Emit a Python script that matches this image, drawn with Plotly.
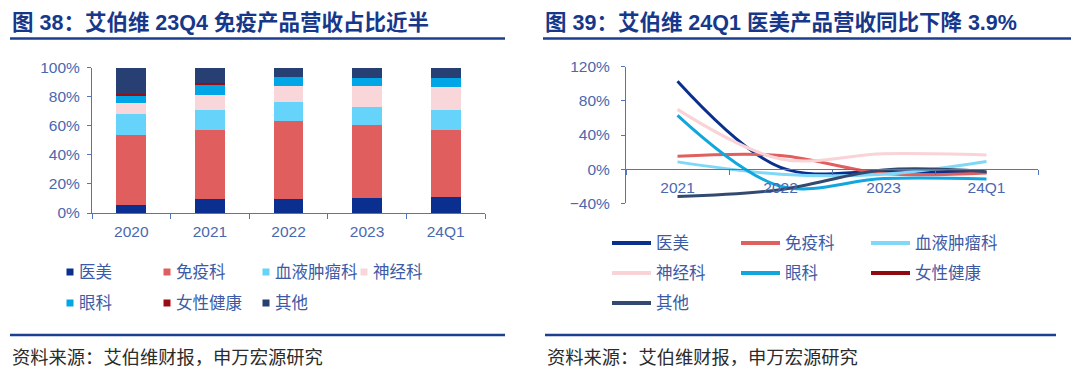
import plotly.graph_objects as go

# page is 1080x377 with the default 8px body margin -> figure 1064x361
PAGE_W, PAGE_H = 1080, 377
OFF = 8
W, H = PAGE_W - 2 * OFF, PAGE_H - 2 * OFF

# ---------------- data ----------------
bar_categories = ["2020", "2021", "2022", "2023", "24Q1"]
series_names = ["医美", "免疫科", "血液肿瘤科", "神经科", "眼科", "女性健康", "其他"]
share_aesthetics = [5.3, 9.4, 9.4, 10.1, 10.8]
share_immunology = [48.5, 47.4, 54.2, 50.8, 46.6]
share_hem_onc = [14.6, 13.9, 12.6, 11.9, 13.3]
share_neuro = [7.3, 10.5, 11.4, 14.8, 16.2]
share_eye = [5.1, 6.9, 5.8, 5.1, 5.8]
share_women = [1.4, 1.4, 0.0, 0.0, 0.0]
share_other = [17.8, 10.5, 6.6, 7.3, 7.3]

line_categories = ["2021", "2022", "2023", "24Q1"]
yoy_aesthetics = [103, 2, -2.8, -3.9]
yoy_immunology = [15, 16, -5, -4.5]
yoy_hem_onc = [8.5, -6, -6, 9]
yoy_neuro = [70, 12, 18, 16.5]
yoy_eye = [63, -20, -11, -11.5]
yoy_women = [None, None, None, None]
yoy_other = [-32, -24, -1, -3]

bar_colors = ["#0B2F8E", "#E05F5E", "#66D3FA", "#F9D6D9", "#00A6E6", "#9A0C12", "#273F72"]
line_colors = ["#0B2F8E", "#E0605F", "#7FD8F8", "#F9D3D6", "#12A6DF", "#8E0A10", "#34496F"]

bar_values = [share_aesthetics, share_immunology, share_hem_onc, share_neuro,
              share_eye, share_women, share_other]
line_values = [yoy_aesthetics, yoy_immunology, yoy_hem_onc, yoy_neuro,
               yoy_eye, yoy_women, yoy_other]

title_left = "图 38：艾伯维 23Q4 免疫产品营收占比近半"
title_right = "图 39：艾伯维 24Q1 医美产品营收同比下降 3.9%"
source_text = "资料来源：艾伯维财报，申万宏源研究"

# ---------------- style ----------------
FONT = "Liberation Sans, Arial, Noto Sans CJK SC, sans-serif"
AXIS_COLOR = "#5273C0"
TICK_COLOR = "#4A68B0"
LEGEND_TEXT = "#3D5AA6"
TITLE_COLOR = "#17388A"
RULE_COLOR = "#1D3F8F"


def px(x):
    return (x - OFF) / W


def py(y):
    return 1 - (y - OFF) / H


fig = go.Figure()

for name, vals, col in zip(series_names, bar_values, bar_colors):
    fig.add_trace(go.Bar(x=bar_categories, y=vals, name=name, marker_color=col,
                         marker_line_width=0, xaxis="x", yaxis="y", showlegend=False))

for name, vals, col in zip(series_names, line_values, line_colors):
    fig.add_trace(go.Scatter(x=line_categories, y=vals, name=name, mode="lines",
                             line=dict(color=col, width=3, shape="spline", smoothing=1),
                             xaxis="x2", yaxis="y2", showlegend=False))

# right plot geometry (page pixels)
r_top, r_bot = 66.7, 203.3
r_ymin, r_ymax = -40, 120
zero_y = r_top + (r_ymax - 0) / (r_ymax - r_ymin) * (r_bot - r_top)

tickfont = dict(family=FONT, size=15.5, color=TICK_COLOR)

fig.update_layout(
    width=W, height=H,
    margin=dict(l=0, r=0, t=0, b=0, autoexpand=False),
    paper_bgcolor="white", plot_bgcolor="white",
    barmode="stack", bargap=0.62,
    showlegend=False,
    font=dict(family=FONT),
    xaxis=dict(domain=[px(92), px(485)], anchor="y", showline=True, linecolor=AXIS_COLOR,
               linewidth=1.2, ticks="outside", tickson="boundaries", ticklen=5,
               tickcolor=AXIS_COLOR, tickfont=tickfont, showgrid=False,
               ticklabelstandoff=4, range=[-0.5, len(bar_categories) - 0.5]),
    yaxis=dict(domain=[py(213), py(67.7)], anchor="x", range=[0, 100], dtick=20,
               ticksuffix="%", showline=True, linecolor=AXIS_COLOR, linewidth=1.2,
               ticks="outside", ticklen=4, tickcolor=AXIS_COLOR, tickfont=tickfont,
               showgrid=False, zeroline=False, ticklabelstandoff=4),
    xaxis2=dict(domain=[px(626), px(1038)], anchor="free", position=py(zero_y),
                showline=True, linecolor=AXIS_COLOR, linewidth=1.2, ticks="outside",
                tickson="boundaries", ticklen=5, tickcolor=AXIS_COLOR, tickfont=tickfont,
                showgrid=False, ticklabelstandoff=4,
                range=[-0.5, len(line_categories) - 0.5]),
    yaxis2=dict(domain=[py(r_bot), py(r_top)], anchor="x2", range=[r_ymin, r_ymax],
                dtick=40, ticksuffix="%", showline=True, linecolor=AXIS_COLOR,
                linewidth=1.2, ticks="outside", ticklen=4, tickcolor=AXIS_COLOR,
                tickfont=tickfont, showgrid=False, zeroline=False, ticklabelstandoff=8),
)

shapes = []
annotations = []

# titles and rules
for x0, x1, title in [(10, 505, title_left), (543, 1071, title_right)]:
    annotations.append(dict(text=f"<b>{title}</b>", x=px(x0), y=py(23), xref="paper",
                            yref="paper", xanchor="left", yanchor="middle", showarrow=False,
                            font=dict(family=FONT, size=21.5, color=TITLE_COLOR)))
    shapes.append(dict(type="line", xref="paper", yref="paper", x0=px(x0), x1=px(x1),
                       y0=py(38.5), y1=py(38.5), line=dict(color=RULE_COLOR, width=2.5)))

for x0, x1 in [(10, 505), (545, 1056)]:
    shapes.append(dict(type="line", xref="paper", yref="paper", x0=px(x0), x1=px(x1),
                       y0=py(335), y1=py(335), line=dict(color=RULE_COLOR, width=2.5)))
    annotations.append(dict(text=source_text, x=px(x0), y=py(357), xref="paper",
                            yref="paper", xanchor="left", yanchor="middle", showarrow=False,
                            font=dict(family=FONT, size=18.3, color="#2B2B2B")))

# left legend (square markers)
left_cols = [70, 167, 266, 364]
left_rows = [272, 303]
for i, (name, col) in enumerate(zip(series_names, bar_colors)):
    r, c = divmod(i, 4)
    mx, my = left_cols[c], left_rows[r]
    shapes.append(dict(type="rect", xref="paper", yref="paper", x0=px(mx - 3.5),
                       x1=px(mx + 3.5), y0=py(my + 3.5), y1=py(my - 3.5),
                       fillcolor=col, line=dict(width=0)))
    annotations.append(dict(text=name, x=px(mx + 7), y=py(my), xref="paper", yref="paper",
                            xanchor="left", yanchor="middle", showarrow=False,
                            font=dict(family=FONT, size=16.5, color=LEGEND_TEXT)))

# right legend (line samples)
right_cols = [612, 741, 871]
right_rows = [243, 273, 303]
for i, (name, col) in enumerate(zip(series_names, line_colors)):
    r, c = divmod(i, 3)
    lx, ly = right_cols[c], right_rows[r]
    shapes.append(dict(type="line", xref="paper", yref="paper", x0=px(lx), x1=px(lx + 39),
                       y0=py(ly), y1=py(ly), line=dict(color=col, width=4)))
    annotations.append(dict(text=name, x=px(lx + 42), y=py(ly), xref="paper", yref="paper",
                            xanchor="left", yanchor="middle", showarrow=False,
                            font=dict(family=FONT, size=16.5, color=LEGEND_TEXT)))

fig.update_layout(shapes=shapes, annotations=annotations)

fig.write_html("out.html")
